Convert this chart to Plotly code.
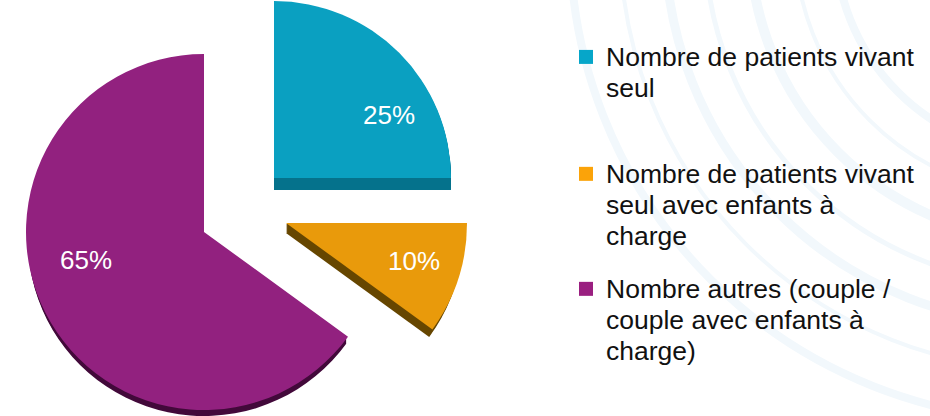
import plotly.graph_objects as go

categories = [
    "&nbsp;<br>Nombre de patients vivant<br>seul",
    "&nbsp;<br>&nbsp;<br>Nombre de patients vivant<br>seul avec enfants à<br>charge",
    "&nbsp;<br>&nbsp;<br>Nombre autres (couple /<br>couple avec enfants à<br>charge)",
]
values = [25, 10, 65]
top_colors = ["#0AA0C1", "#E99A0B", "#92217F"]
side_colors = ["#05728C", "#664600", "#42093A"]
legend_colors = ["#06A6C9", "#FBA309", "#9A1F80"]
apex_x = [274, 286, 204]
apex_y = [178, 223, 232]
radius = [177, 181, 178]
side_radius = [177, 177, 176]
depth = [12, 10, 8]
label_x = [389, 414, 86]
label_y = [115, 261, 260]
legend_ids = ["legend", "legend2", "legend3"]
legend_tops = [4, 90, 205]
arc_radii = [215, 255, 300, 345, 385, 430, 480]
arc_widths = [8, 4, 10, 5, 9, 4, 8]

W, H = 930, 416
fig = go.Figure()


def slice_pie(i, cx, cy, r, color):
    colors = ["rgba(0,0,0,0)"] * 3
    colors[i] = color
    return go.Pie(
        values=values,
        labels=["a", "b", "c"],
        sort=False,
        direction="clockwise",
        rotation=0,
        textinfo="none",
        hoverinfo="skip",
        showlegend=False,
        marker=dict(colors=colors, line=dict(width=0)),
        domain=dict(
            x=[(cx - r) / W, (cx + r) / W],
            y=[max(0, 1 - (cy + r) / H), min(1, 1 - (cy - r) / H)],
        ),
    )


for i in range(3):
    for offset in range(1, depth[i] + 1):
        fig.add_trace(slice_pie(i, apex_x[i], apex_y[i] + offset, side_radius[i], side_colors[i]))
for i in range(3):
    fig.add_trace(slice_pie(i, apex_x[i], apex_y[i], radius[i], top_colors[i]))

for i in range(3):
    fig.add_trace(
        go.Scatter(
            x=[None],
            y=[None],
            mode="markers",
            marker=dict(symbol="square", size=14, color=legend_colors[i]),
            name=f'<span style="font-size:26.5px">{categories[i]}</span>',
            legend=legend_ids[i],
        )
    )

shapes = [
    dict(
        type="circle",
        xref="x",
        yref="y",
        x0=1050 - r,
        x1=1050 + r,
        y0=-60 - r,
        y1=-60 + r,
        line=dict(color="#F2F8FC", width=w),
        layer="below",
    )
    for r, w in zip(arc_radii, arc_widths)
]

annotations = [
    dict(
        x=label_x[i],
        y=label_y[i],
        xref="x",
        yref="y",
        text=f"{values[i]}%",
        showarrow=False,
        font=dict(color="white", size=26, family="Liberation Sans, Arial, sans-serif"),
    )
    for i in range(3)
]

legend_layouts = {
    legend_ids[i]: dict(
        x=566 / W,
        y=1 - legend_tops[i] / H,
        xanchor="left",
        yanchor="top",
        bgcolor="rgba(0,0,0,0)",
        font=dict(size=23.8, color="#111111"),
        itemclick=False,
        itemdoubleclick=False,
    )
    for i in range(3)
}

fig.update_layout(
    width=W,
    height=H,
    margin=dict(l=0, r=0, t=0, b=0),
    paper_bgcolor="white",
    plot_bgcolor="rgba(0,0,0,0)",
    xaxis=dict(range=[0, W], visible=False, fixedrange=True),
    yaxis=dict(range=[H, 0], visible=False, fixedrange=True),
    shapes=shapes,
    annotations=annotations,
    font=dict(family="Liberation Sans, Arial, sans-serif", color="#111111"),
    **legend_layouts,
)

fig.write_html(
    "out.html",
    config=dict(displayModeBar=False),
    post_script="document.body.style.margin='0';document.body.style.overflow='hidden';",
)
